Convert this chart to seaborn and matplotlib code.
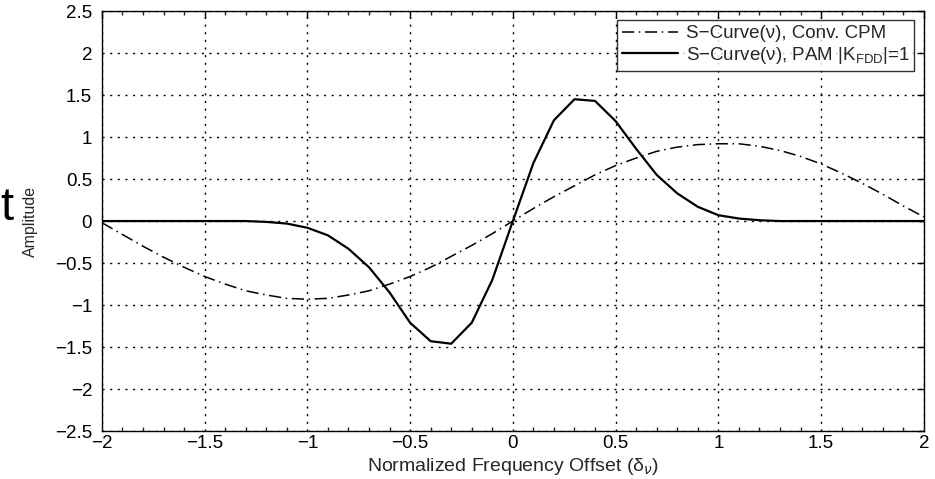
import numpy as np
import pandas as pd
import matplotlib
matplotlib.use("Agg")
import matplotlib.pyplot as plt
import seaborn as sns
from matplotlib.ticker import MultipleLocator

# Normalized frequency offset grid
offset = [round(-2.0 + 0.1 * i, 1) for i in range(41)]

# S-curve of the conventional CPM detector
s_conv_cpm = [
    -0.02, -0.16, -0.30, -0.43, -0.55, -0.66, -0.75, -0.83, -0.88, -0.92,
    -0.93, -0.92, -0.88, -0.83, -0.75, -0.66, -0.55, -0.42, -0.29, -0.15,
    0.00, 0.15, 0.29, 0.42, 0.55, 0.66, 0.75, 0.83, 0.88, 0.91,
    0.92, 0.92, 0.89, 0.84, 0.77, 0.68, 0.57, 0.45, 0.32, 0.18,
    0.05,
]

# S-curve of the PAM-based detector, |K_FDD| = 1
s_pam = [
    0.00, 0.00, 0.00, 0.00, 0.00, 0.00, 0.00, 0.00, -0.01, -0.03,
    -0.08, -0.17, -0.33, -0.55, -0.85, -1.21, -1.43, -1.46, -1.21, -0.70,
    0.00, 0.69, 1.20, 1.45, 1.43, 1.19, 0.86, 0.55, 0.33, 0.17,
    0.07, 0.03, 0.01, 0.00, 0.00, 0.00, 0.00, 0.00, 0.00, 0.00,
    0.00,
]

label_conv = "S\u2212Curve(\u03bd), Conv. CPM"
label_pam = "S\u2212Curve(\u03bd), PAM |K$_{\\mathregular{FDD}}$|=1"

df = pd.DataFrame({
    "offset": offset * 2,
    "amplitude": s_conv_cpm + s_pam,
    "curve": [label_conv] * len(offset) + [label_pam] * len(offset),
})

sns.set_style("white")
plt.rcParams["font.family"] = ["Liberation Sans", "DejaVu Sans"]
plt.rcParams["mathtext.fontset"] = "custom"
plt.rcParams["mathtext.rm"] = "Liberation Sans"

fig = plt.figure(figsize=(9.35, 4.79), dpi=100)
ax = fig.add_axes([0.109, 0.100, 0.879, 0.877])

sns.lineplot(
    data=df, x="offset", y="amplitude", hue="curve", style="curve",
    palette={label_conv: "black", label_pam: "black"},
    dashes={label_conv: (8, 3, 1, 3), label_pam: ""},
    size="curve", sizes={label_conv: 1.1, label_pam: 1.6},
    ax=ax, legend=True,
)

ax.set_xlim(-2, 2)
ax.set_ylim(-2.5, 2.5)

def fmt(v):
    s = f"{v:g}"
    return s.replace("-", "\u2212")

xt = np.arange(-2, 2.01, 0.5)
yt = np.arange(-2.5, 2.51, 0.5)
ax.set_xticks(xt)
ax.set_xticklabels([fmt(round(v, 1)) for v in xt])
ax.set_yticks(yt)
ax.set_yticklabels([fmt(round(v, 1)) for v in yt])
ax.xaxis.set_minor_locator(MultipleLocator(0.1))

ax.tick_params(axis="both", which="major", direction="in", length=5, width=1,
               top=True, right=True, labelsize=13.5, colors="black")
ax.tick_params(axis="x", which="minor", direction="in", length=3, width=1,
               top=True, bottom=True)
ax.tick_params(axis="x", which="major", pad=3)
ax.tick_params(axis="y", which="major", pad=7)

ax.grid(True, which="major", linestyle=(0, (1.5, 4)), color="black", linewidth=1.0)
for sp in ax.spines.values():
    sp.set_color("black")
    sp.set_linewidth(1.0)

ax.set_xlabel("Normalized Frequency Offset (\u03b4$_{\u03bd}$)", fontsize=14, labelpad=3)
ax.set_ylabel("Amplitude", fontsize=11.5, labelpad=12)

handles, labels = ax.get_legend_handles_labels()
leg = ax.legend(handles, labels, loc="upper right", fontsize=13.5,
                frameon=True, fancybox=False, edgecolor="black",
                borderaxespad=0.5, handlelength=3.0, handletextpad=0.4,
                borderpad=0.25, labelspacing=0.15)
leg.get_frame().set_linewidth(1.0)

fig.text(0.0005, 0.541, "t", fontsize=34, ha="left", va="baseline", color="black")

fig.savefig("out.png", dpi=100, facecolor="white")
